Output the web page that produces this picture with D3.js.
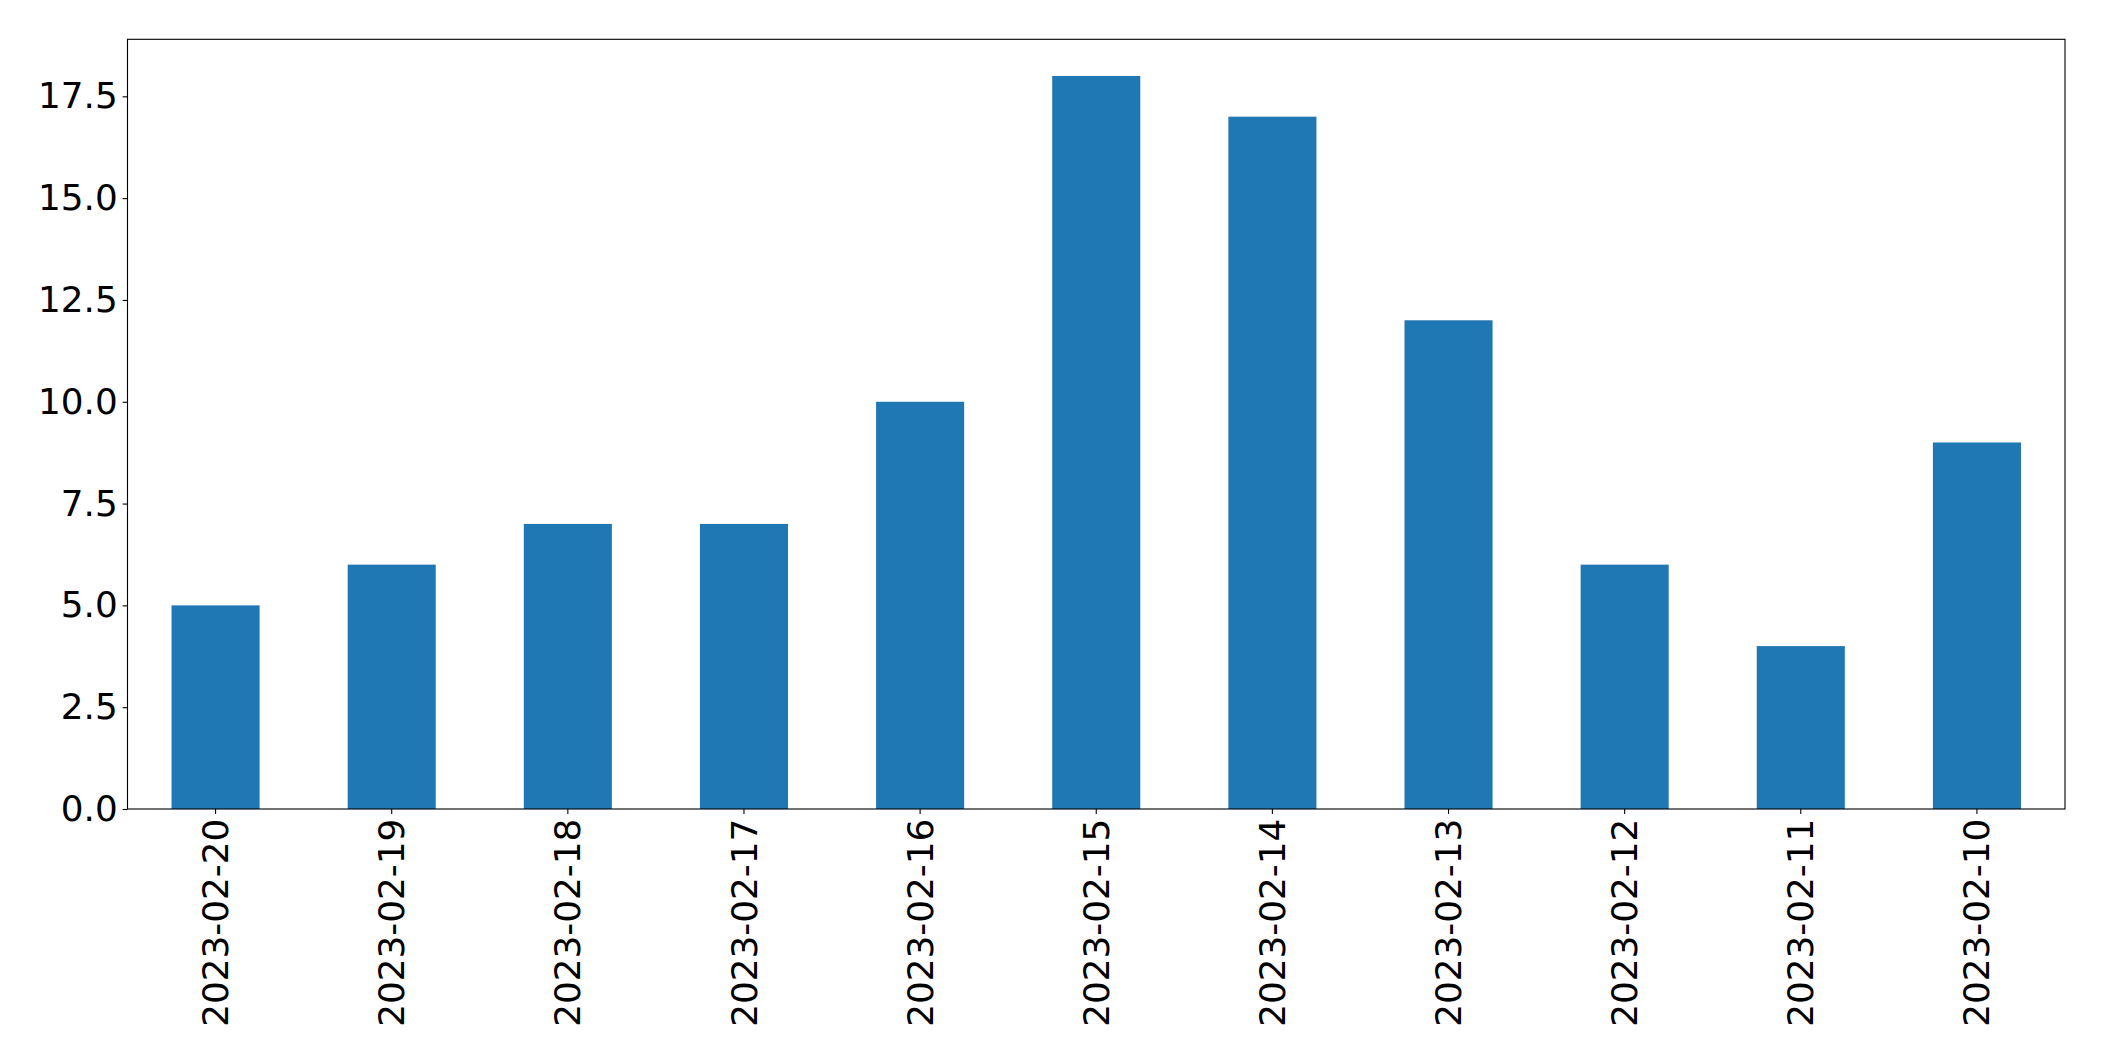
<!DOCTYPE html>
<html>
<head>
<meta charset="utf-8">
<script src="https://cdn.jsdelivr.net/npm/d3@7"></script>
<style>
  html, body { margin: 0; padding: 0; background: #fff; }
  svg { display: block; }
  text { font-family: "DejaVu Sans", sans-serif; fill: #000; }
</style>
</head>
<body>
<svg id="chart" width="2104" height="1061"></svg>
<script>
const categories = ["2023-02-20","2023-02-19","2023-02-18","2023-02-17","2023-02-16","2023-02-15","2023-02-14","2023-02-13","2023-02-12","2023-02-11","2023-02-10"];
const values = [5, 6, 7, 7, 10, 18, 17, 12, 6, 4, 9];
const yTicks = [0, 2.5, 5, 7.5, 10, 12.5, 15, 17.5];

const plotLeft = 127.5, plotRight = 2065, plotTop = 39.3, plotBottom = 809;
const fontSize = 35.8;
const tickLen = 4.9, tickPad = 4.9;

const svg = d3.select("#chart");

const x = d3.scaleBand()
  .domain(categories)
  .range([plotLeft, plotRight])
  .paddingInner(0.5)
  .paddingOuter(0.25);

const y = d3.scaleLinear()
  .domain([0, d3.max(values) * 1.05])
  .range([plotBottom, plotTop]);

// bars
svg.append("g")
  .selectAll("rect")
  .data(values)
  .join("rect")
  .attr("x", (d, i) => x(categories[i]))
  .attr("y", d => y(d))
  .attr("width", x.bandwidth())
  .attr("height", d => y(0) - y(d))
  .attr("fill", "#1f77b4");

// y axis
const yAxis = d3.axisLeft(y)
  .tickValues(yTicks)
  .tickFormat(d3.format(".1f"))
  .tickSize(tickLen)
  .tickPadding(tickPad);
const gy = svg.append("g")
  .attr("transform", `translate(${plotLeft},0)`)
  .call(yAxis);
gy.select(".domain").remove();
gy.selectAll(".tick line").attr("stroke", "#000").attr("stroke-width", 1.1);
gy.selectAll(".tick text")
  .attr("font-size", fontSize)
  .attr("font-family", "DejaVu Sans, sans-serif")
  .attr("fill", "#000");

// x axis
const xAxis = d3.axisBottom(x).tickSize(tickLen).tickPadding(tickPad);
const gx = svg.append("g")
  .attr("transform", `translate(0,${plotBottom})`)
  .call(xAxis);
gx.select(".domain").remove();
gx.selectAll(".tick line").attr("stroke", "#000").attr("stroke-width", 1.1);
gx.selectAll(".tick text")
  .attr("font-size", fontSize)
  .attr("font-family", "DejaVu Sans, sans-serif")
  .attr("fill", "#000")
  .attr("text-anchor", "end")
  .attr("y", 0)
  .attr("dy", "0.35em")
  .attr("transform", `translate(0,${tickLen + tickPad}) rotate(-90)`);

// frame
svg.append("rect")
  .attr("x", plotLeft)
  .attr("y", plotTop)
  .attr("width", plotRight - plotLeft)
  .attr("height", plotBottom - plotTop)
  .attr("fill", "none")
  .attr("stroke", "#000")
  .attr("stroke-width", 1.1);
</script>
</body>
</html>
